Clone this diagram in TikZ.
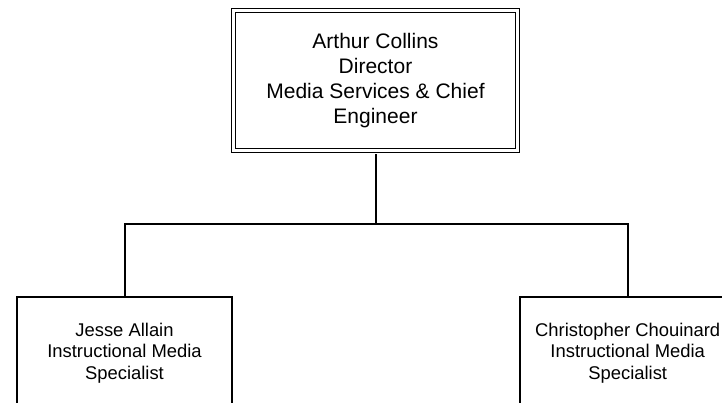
\documentclass[tikz,border=0pt]{standalone}
\usepackage{fontspec}
\setmainfont{Liberation Sans}
\usepackage{tikz}

\begin{document}
\begin{tikzpicture}[x=1pt, y=-1pt, line width=2pt,
		headbox/.style = {draw, double, line width=1.7pt, double distance=2.3pt, minimum width=284pt, minimum height=140pt, inner sep=0pt, align=center, font=\fontsize{21}{25}\selectfont},
		staffbox/.style = {draw, minimum width=215pt, minimum height=112pt, inner sep=0pt, align=center, font=\fontsize{18.4}{21.5}\selectfont}]
				\useasboundingbox (0,0) rectangle (722,402);
				\clip (0,0) rectangle (722,402);
				%director
				\node[headbox] (collins) at (375.5,80.5) {Arthur Collins\\Director\\Media Services \& Chief\\Engineer};
				%specialists
				\node[staffbox] (allain) at (124.5,353) {Jesse Allain\\Instructional Media\\Specialist};
				\node[staffbox] (chouinard) at (627.7,353) {Christopher Chouinard\\Instructional Media\\Specialist};
				%connectors
				\coordinate (bus) at (375.5,224);
				\draw[shorten <=2.85pt] (collins.south) -- (bus);
				\draw (allain.north) |- (bus) -| (chouinard.north);
			\end{tikzpicture}
\end{document}
